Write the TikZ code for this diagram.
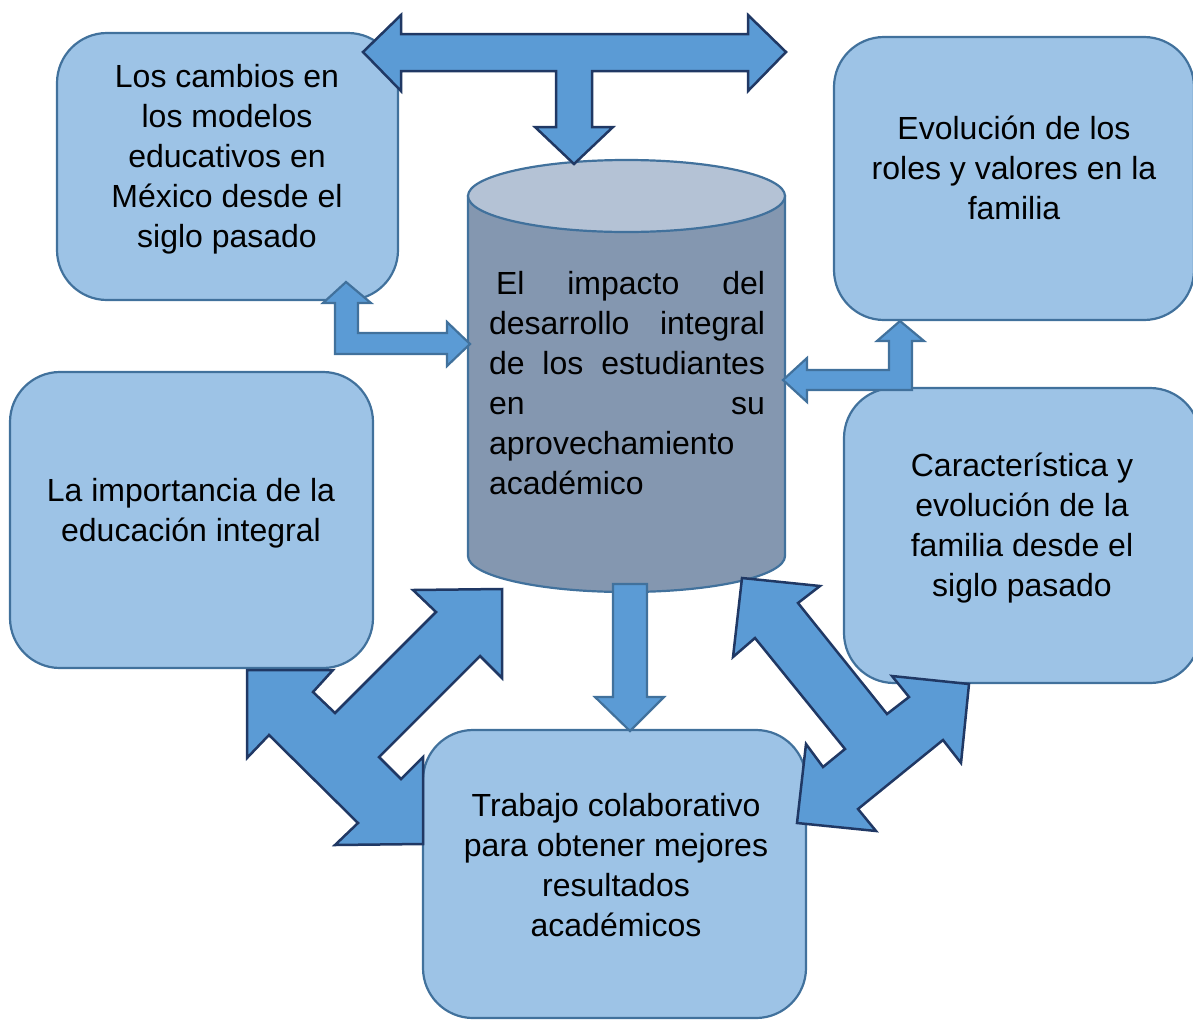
\documentclass[tikz,border=0pt]{standalone}
\usepackage{fontspec}
\setmainfont{Liberation Sans}
\definecolor{boxfill}{HTML}{9DC3E6}
\definecolor{boxline}{HTML}{41719C}
\definecolor{arrfill}{HTML}{5B9BD5}
\definecolor{arrdark}{HTML}{203864}
\definecolor{cylbody}{HTML}{8497B0}
\definecolor{cyltop}{HTML}{B4C2D5}
\begin{document}
\begin{tikzpicture}[x=1pt,y=-1pt,
  box/.style={draw=boxline, fill=boxfill, line width=2.2pt, rounded corners=50pt, inner sep=0pt},
  txt/.style={font=\fontsize{32}{40}\selectfont, align=center, inner sep=0pt, text=black},
  arrlight/.style={draw=boxline, fill=arrfill, line width=2.2pt, line join=miter},
  arrdk/.style={draw=arrdark, fill=arrfill, line width=2.5pt, line join=miter},
  cylst/.style={draw=boxline, line width=2.2pt}]
\useasboundingbox (0,0) rectangle (1193,1020);
\clip (0,0) rectangle (1193,1020);

% boxes
\node[box, minimum width=341pt, minimum height=267pt] (b1) at (227.5,166.5) {};
\node[box, minimum width=360pt, minimum height=283pt] (b2) at (1014,178.5) {};
\node[box, minimum width=363pt, minimum height=296pt] (b3) at (191.5,520) {};
\node[box, minimum width=356pt, minimum height=295pt] (b4) at (1022,535.5) {};
\node[box, minimum width=383pt, minimum height=288pt] (b5) at (614.5,874) {};

\node[txt] (t1) at (227,159) {Los cambios en\\los modelos\\educativos en\\México desde el\\siglo pasado};
\node[txt] (t2) at (1014,168) {Evolución de los\\roles y valores en la\\familia};
\node[txt] (t3) at (191,513) {La importancia de la\\educación integral};
\node[txt] (t4) at (1022,528) {Característica y\\evolución de la\\familia desde el\\siglo pasado};
\node[txt] (t5) at (616,865) {Trabajo colaborativo\\para obtener mejores\\resultados\\académicos};

% cylinder
\draw[cylst, fill=cylbody] (468,196) -- (468,556)
  .. controls (468,575.9) and (538.96,592) .. (626.5,592)
  .. controls (714.04,592) and (785,575.9) .. (785,556) -- (785,196) -- cycle;
\draw[cylst, fill=cyltop] (626.5,196) ellipse [x radius=158.5, y radius=36];
\node[txt, align=left] (cyl) at (627,383) {%
\hbox to 276pt{\hspace{7pt}El\hfill impacto\hfill del}\\
\hbox to 276pt{desarrollo\hfill integral}\\
\hbox to 276pt{de\hfill los\hfill estudiantes}\\
\hbox to 276pt{en\hfill su}\\
aprovechamiento\\
académico};

% top T arrow
\draw[arrdk] (363,52) -- (401,15) -- (401,34) -- (748,34) -- (748,15) -- (786,52) -- (748,91) -- (748,71)
  -- (592,71) -- (592,127) -- (613,127) -- (574,164) -- (535,127) -- (556,127) -- (556,71)
  -- (401,71) -- (401,91) -- cycle;

% left bent arrow
\draw[arrlight] (346,282) -- (371,303) -- (358,303) -- (358,333) -- (447,333) -- (447,322) -- (470,344)
  -- (447,366) -- (447,354) -- (335,354) -- (335,303) -- (323,303) -- cycle;

% right bent arrow
\draw[arrlight] (783,380) -- (807,358) -- (807,370) -- (889,370) -- (889,341) -- (877,341) -- (900,321)
  -- (924,341) -- (912,341) -- (912,390) -- (807,390) -- (807,402) -- cycle;

% down arrow
\draw[arrlight] (613,584) -- (647,584) -- (647,697) -- (664,697) -- (630,731) -- (595,697) -- (613,697) -- cycle;

% bottom-left diagonal arrow
\draw[arrdk] (413,590) -- (502,589) -- (502,678) -- (480,656) -- (379,757) -- (401,779) -- (423,757)
  -- (423,844) -- (335,845) -- (358,823) -- (269,735) -- (247,758) -- (247,670) -- (333,670)
  -- (313,692) -- (335,713) -- (436,612) -- cycle;

% bottom-right diagonal arrow
\draw[arrdk] (742,578) -- (820,586) -- (798,603) -- (887,714) -- (909,697) -- (892,676) -- (969,684)
  -- (961,763) -- (943,740) -- (858,809) -- (876,831) -- (797,823) -- (806,744) -- (823,767)
  -- (845,749) -- (755,638) -- (733,657) -- cycle;
\end{tikzpicture}
\end{document}
